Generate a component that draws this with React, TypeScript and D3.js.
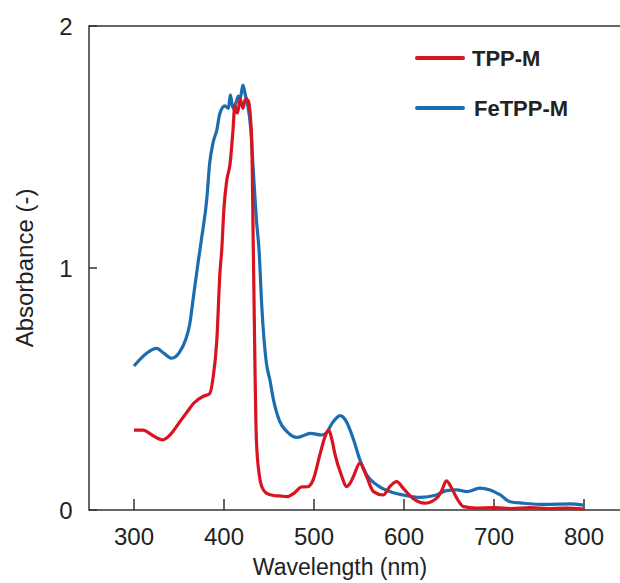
import React from 'react';
import * as d3 from 'd3';

// TPP-M spectrum (wavelength nm, absorbance)
const tppWavelength = [300, 310, 320, 332, 340, 351, 360, 366, 377, 384, 388, 392, 395.5, 397.4, 400, 403, 406.7, 410, 412, 415, 418, 421, 424, 427, 430.7, 432.6, 436, 439, 442, 447, 455, 462, 470, 478, 486, 493, 499, 507, 512, 516, 520, 523, 531, 536, 540, 544, 551, 558.5, 566, 577, 584, 592, 599, 610, 623, 636, 642, 647, 653, 658.5, 666, 680, 700, 720, 740, 760, 780, 800];
const tppAbsorbance = [0.33, 0.33, 0.31, 0.29, 0.31, 0.365, 0.41, 0.44, 0.47, 0.48, 0.55, 0.7, 0.98, 1.07, 1.25, 1.36, 1.43, 1.57, 1.67, 1.64, 1.7, 1.66, 1.7, 1.69, 1.54, 1.07, 0.29, 0.15, 0.096, 0.07, 0.06, 0.058, 0.055, 0.07, 0.095, 0.096, 0.124, 0.235, 0.3, 0.33, 0.29, 0.235, 0.138, 0.096, 0.11, 0.14, 0.194, 0.138, 0.076, 0.062, 0.096, 0.117, 0.09, 0.048, 0.028, 0.048, 0.08, 0.12, 0.09, 0.05, 0.014, 0.008, 0.01, 0.006, 0.01, 0.006, 0.008, 0.004];

// FeTPP-M spectrum
const feWavelength = [300, 314, 325, 333, 342, 351, 357, 362, 366, 371.5, 375, 381, 384, 388, 392, 395.5, 401, 405, 407, 410, 413, 416, 418, 421, 424, 426, 429.6, 432.6, 436, 439, 442, 447, 451, 455, 462, 470, 481, 490, 496, 508.5, 514, 520, 525, 529, 532, 536, 544, 551, 558.5, 570, 584, 599, 618, 636, 647, 658.5, 670, 684, 695.5, 707, 718, 732.6, 758.5, 784, 800];
const feAbsorbance = [0.595, 0.648, 0.668, 0.648, 0.627, 0.654, 0.7, 0.77, 0.88, 1.03, 1.12, 1.29, 1.43, 1.52, 1.57, 1.64, 1.67, 1.66, 1.715, 1.66, 1.68, 1.71, 1.7, 1.756, 1.71, 1.68, 1.58, 1.4, 1.2, 1.07, 0.84, 0.61, 0.537, 0.455, 0.365, 0.324, 0.3, 0.31, 0.317, 0.31, 0.32, 0.358, 0.38, 0.39, 0.385, 0.365, 0.29, 0.207, 0.145, 0.103, 0.076, 0.062, 0.052, 0.062, 0.08, 0.083, 0.076, 0.09, 0.083, 0.062, 0.034, 0.028, 0.023, 0.025, 0.02];

const xTicks = [300, 400, 500, 600, 700, 800];
const yTicks = [0, 1, 2];

const series = [
    { name: 'FeTPP-M', color: '#1c6db0', x: feWavelength, y: feAbsorbance },
    { name: 'TPP-M', color: '#d7141f', x: tppWavelength, y: tppAbsorbance }
];
const legendOrder = ['TPP-M', 'FeTPP-M'];

const W = 620;
const H = 583;
const font = 'Arial, "Liberation Sans", sans-serif';

export default function App() {
    const x = d3.scaleLinear().domain([250, 850]).range([89, 629]);
    const y = d3.scaleLinear().domain([0, 2]).range([510, 26]);

    const line = d3.line<[number, number]>()
        .x(d => x(d[0]))
        .y(d => y(d[1]))
        .curve(d3.curveMonotoneX);

    return (
        <div style={{ position: 'absolute', left: 0, top: 0 }}>
            <svg width={W} height={H} style={{ display: 'block', background: '#fff' }}>
                {/* frame */}
                <rect x={x(250)} y={y(2)} width={x(850) - x(250)} height={y(0) - y(2)}
                    fill="none" stroke="#333" strokeWidth={1.5} />

                {/* x ticks, pointing inward */}
                {xTicks.map(t => (
                    <g key={t}>
                        <line x1={x(t)} x2={x(t)} y1={y(0)} y2={y(0) - 11} stroke="#333" strokeWidth={1.5} />
                        <text x={x(t)} y={545} textAnchor="middle" fontSize={24} fontFamily={font} fill="#222">{t}</text>
                    </g>
                ))}

                {/* y ticks */}
                {yTicks.map(t => (
                    <g key={t}>
                        <line x1={x(250)} x2={x(250) + 8} y1={y(t)} y2={y(t)} stroke="#333" strokeWidth={1.5} />
                        <text x={66} y={y(t) + 9} textAnchor="middle" fontSize={24} fontFamily={font} fill="#222">{t}</text>
                    </g>
                ))}

                {/* curves */}
                {series.map(s => (
                    <path key={s.name}
                        d={line(s.x.map((v, i) => [v, s.y[i]] as [number, number])) || ''}
                        fill="none" stroke={s.color} strokeWidth={3.2} strokeLinejoin="round" />
                ))}

                {/* legend */}
                {legendOrder.map((name, i) => {
                    const s = series.find(d => d.name === name)!;
                    const ly = 58 + i * 50;
                    return (
                        <g key={name}>
                            <line x1={417} x2={463} y1={ly} y2={ly} stroke={s.color} strokeWidth={4} strokeLinecap="round" />
                            <text x={472 + i * 2} y={ly + 8} fontSize={22} fontWeight="bold" fontFamily={font} fill="#222">{name}</text>
                        </g>
                    );
                })}

                {/* axis titles */}
                <text x={340} y={575} textAnchor="middle" fontSize={23} fontFamily={font} fill="#222">Wavelength (nm)</text>
                <text transform="translate(33,268) rotate(-90)" textAnchor="middle" fontSize={24} fontFamily={font} fill="#222">Absorbance (-)</text>
            </svg>
        </div>
    );
}
